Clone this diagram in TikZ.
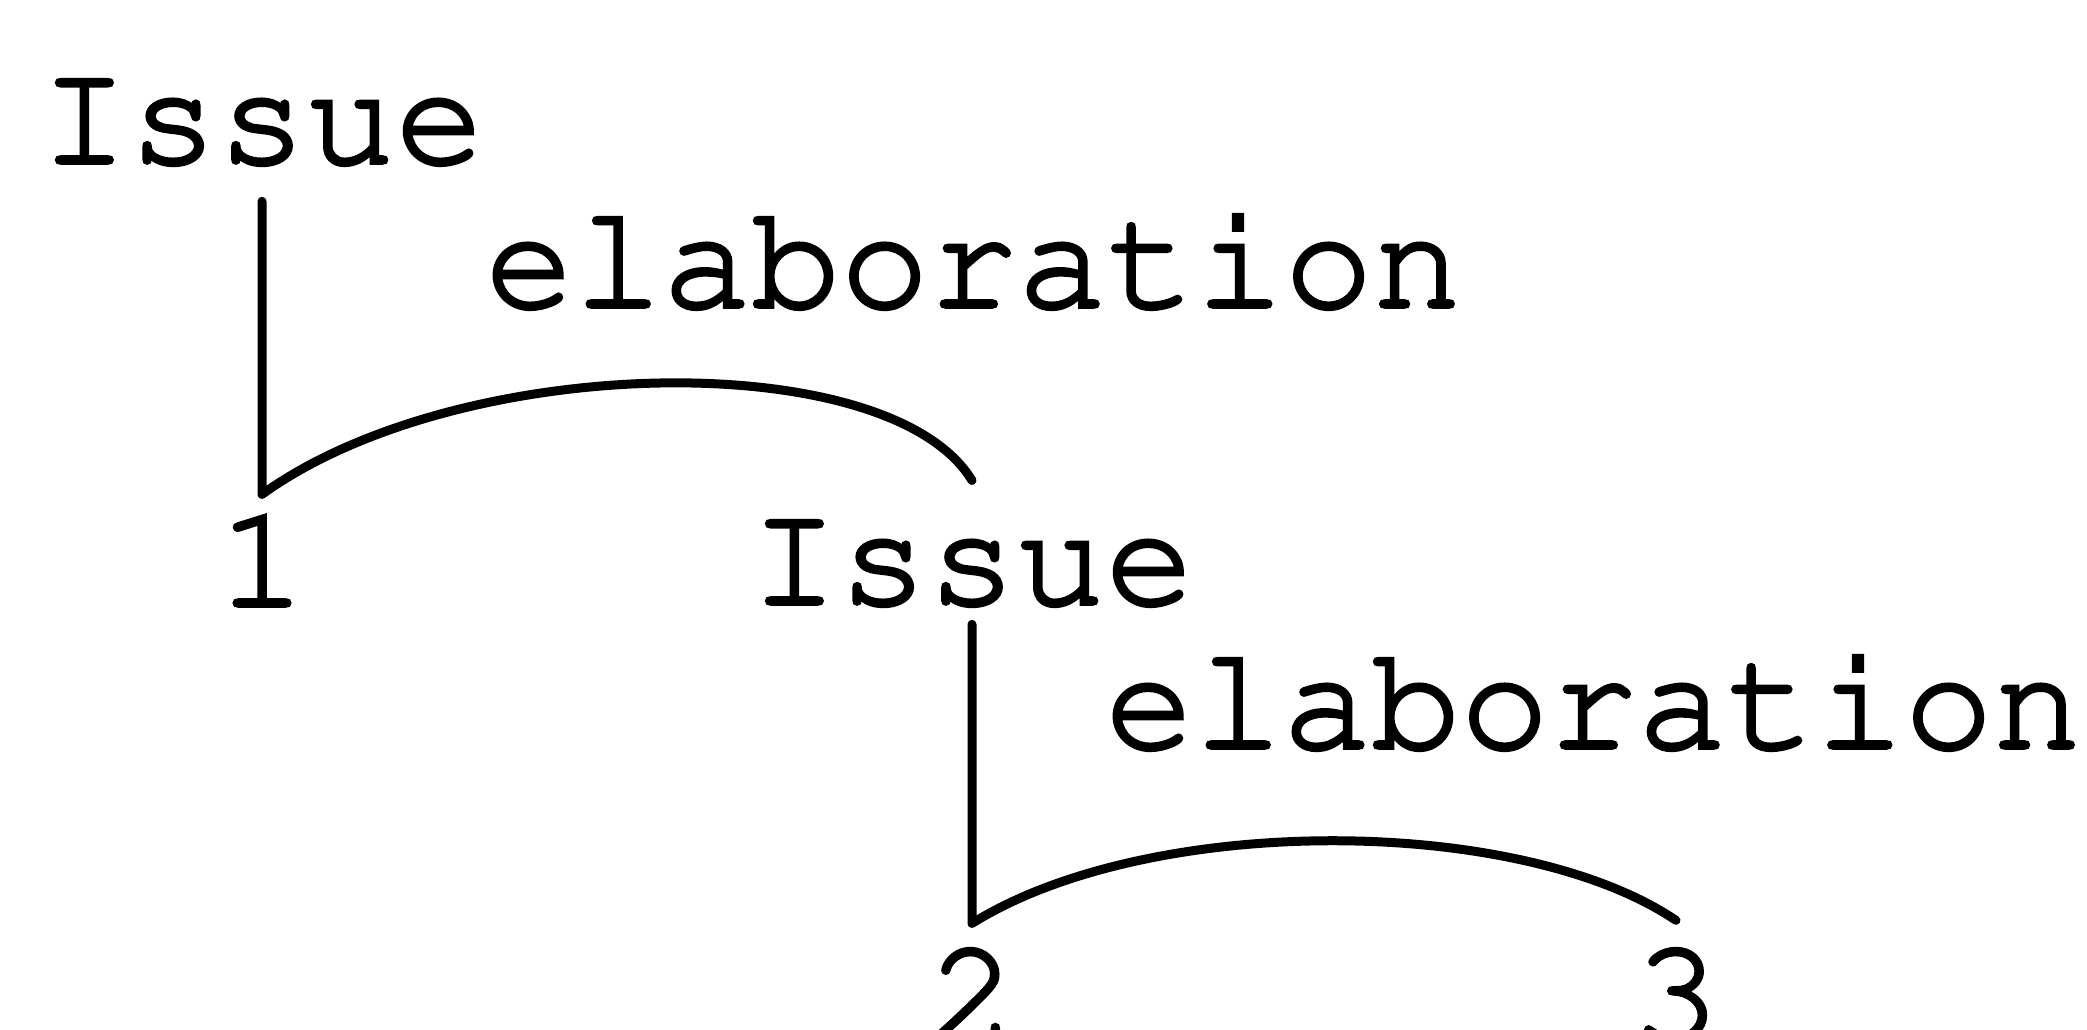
\documentclass[tikz,border=0pt]{standalone}
\usepackage[T1]{fontenc}
\newcommand{\myttfont}{\fontfamily{pcr}\fontsize{148}{160}\selectfont}
\newcommand{\heavytext}[1]{\special{pdf:literal direct 2 Tr 3.5 w}#1\special{pdf:literal direct 0 Tr}}
\begin{document}
\begin{tikzpicture}[x=1pt,y=-1pt,
  txt/.style={inner sep=0pt, outer sep=0pt, font=\myttfont},
  link/.style={line width=9pt, line cap=round, line join=round}]
\useasboundingbox (0,0) rectangle (2087,1029);
\fill[white] (0,0) rectangle (2087,1029);
\clip (0,0) rectangle (2087,1029);
% nodes
\node[txt, anchor=base] (issueA) at (262,163) {\heavytext{Issue}};
\node[txt, anchor=base west] (elabA) at (485,307) {\heavytext{elaboration}};
\node[txt, anchor=base] (one) at (262,606) {\heavytext{1}};
\node[txt, anchor=base] (issueB) at (972,604) {\heavytext{Issue}};
\node[txt, anchor=base west] (elabB) at (1105,748) {\heavytext{elaboration}};
\node[txt, anchor=base] (two) at (972,1040) {\heavytext{2}};
\node[txt, anchor=base] (three) at (1676,1040) {\heavytext{3}};
% connectors
\draw[link] ([yshift=-36pt]issueA.south) -- ([yshift=17pt]one.north)
  .. controls ++(198,-143) and (890,345) .. ([yshift=41pt]issueB.north);
\draw[link] ([yshift=-18pt]issueB.south) -- ([yshift=22pt]two.north)
  .. controls ++(178,-111) and (1520,815) .. ([yshift=25pt]three.north);
\end{tikzpicture}
\end{document}
